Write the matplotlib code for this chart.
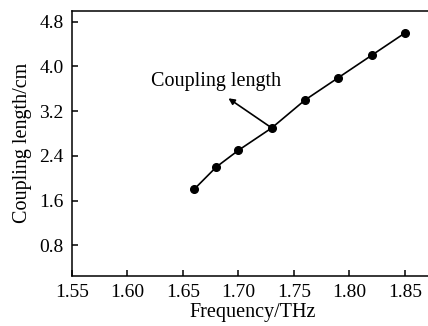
import matplotlib
matplotlib.use("Agg")
import matplotlib.pyplot as plt

# Coupling length vs frequency
freq_thz = [1.66, 1.68, 1.70, 1.73, 1.76, 1.79, 1.82, 1.85]
coupling_cm = [1.80, 2.20, 2.50, 2.90, 3.40, 3.80, 4.20, 4.60]
x_ticks = [1.55, 1.60, 1.65, 1.70, 1.75, 1.80, 1.85]
y_ticks = [0.8, 1.6, 2.4, 3.2, 4.0, 4.8]

plt.rcParams['font.family'] = ['Liberation Serif', 'DejaVu Serif']

fig = plt.figure(figsize=(4.28, 3.26), dpi=100)
ax = fig.add_axes([0.168, 0.1534, 0.843, 0.814])

ax.plot(freq_thz, coupling_cm, color='black', linewidth=1.2,
        marker='o', markersize=5.5, markerfacecolor='black')

# label text, and an arrow from the 1.73 THz point towards it
ax.text(1.680, 3.74, "Coupling length", ha='center', va='center', fontsize=14.5)
ax.annotate("", xy=(1.691, 3.43), xytext=(freq_thz[3], coupling_cm[3]),
            arrowprops=dict(arrowstyle='-|>', color='black', lw=1.2,
                            mutation_scale=9, shrinkA=0, shrinkB=0))

ax.set_xlim(1.55, 1.875)
ax.set_ylim(0.25, 5.0)
ax.set_xticks(x_ticks)
ax.set_xticklabels([f"{v:.2f}" for v in x_ticks])
ax.set_yticks(y_ticks)
ax.set_yticklabels([f"{v:.1f}" for v in y_ticks])
ax.tick_params(direction='in', length=4, width=1.1, labelsize=14,
               top=False, right=False, pad=6)
for s in ax.spines.values():
    s.set_linewidth(1.1)

ax.set_xlabel("Frequency/THz", fontsize=14.5, labelpad=1)
ax.set_ylabel("Coupling length/cm", fontsize=14.5, labelpad=5)

fig.savefig("out.png", dpi=100)
